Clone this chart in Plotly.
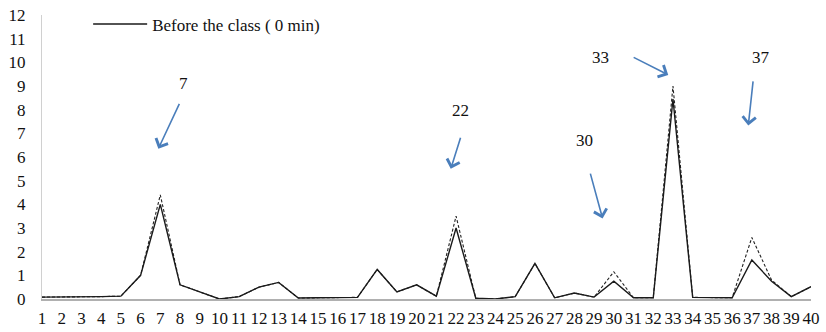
import plotly.graph_objects as go

x_labels = list(range(1, 41))
before_class = [0.08, 0.08, 0.08, 0.1, 0.12, 1.0, 4.0, 0.6, 0.3, 0.0,
                0.1, 0.5, 0.7, 0.04, 0.05, 0.05, 0.07, 1.25, 0.3, 0.6,
                0.12, 3.0, 0.03, 0.0, 0.1, 1.5, 0.05, 0.25, 0.08, 0.75,
                0.05, 0.05, 8.45, 0.07, 0.05, 0.05, 1.65, 0.75, 0.1, 0.52]
other_series = [0.08, 0.08, 0.08, 0.1, 0.12, 1.0, 4.4, 0.6, 0.3, 0.0,
                0.1, 0.5, 0.7, 0.04, 0.05, 0.05, 0.07, 1.25, 0.3, 0.6,
                0.12, 3.5, 0.03, 0.0, 0.1, 1.5, 0.05, 0.25, 0.08, 1.15,
                0.05, 0.05, 9.0, 0.07, 0.05, 0.05, 2.6, 0.8, 0.1, 0.52]

# highlighted points: label, label position, arrow tail, arrow head (data units)
marks = ["7", "22", "30", "33", "37"]
label_x = [8.2, 22.2, 28.5, 29.3, 37.46]
label_y = [9.09, 7.96, 6.69, 10.19, 10.19]
tail_x = [8.0, 22.25, 28.79, 30.93, 37.07]
tail_y = [8.31, 6.88, 5.36, 10.24, 9.26]
head_x = [6.9, 21.73, 29.43, 32.76, 36.82]
head_y = [6.35, 5.50, 3.40, 9.47, 7.33]

font_family = "Liberation Serif"
tick_font = dict(family=font_family, size=17, color="#111111")

fig = go.Figure()
fig.add_trace(go.Scatter(x=x_labels, y=other_series, mode="lines",
                         line=dict(color="#222222", width=1.1, dash="3px,2px"),
                         showlegend=False, name="After"))
fig.add_trace(go.Scatter(x=x_labels, y=before_class, mode="lines",
                         line=dict(color="#1a1a1a", width=1.4),
                         name="Before the class ( 0 min)"))

for lab, lx, ly in zip(marks, label_x, label_y):
    fig.add_annotation(x=lx, y=ly, text=lab, showarrow=False,
                       font=dict(family=font_family, size=17, color="#111111"))
for tx, ty, hx, hy in zip(tail_x, tail_y, head_x, head_y):
    fig.add_annotation(x=hx, y=hy, ax=tx, ay=ty, axref="x", ayref="y",
                       text="", showarrow=True, arrowhead=4, arrowsize=1.6,
                       arrowwidth=1.6, arrowcolor="#4a7ebb")

fig.update_layout(
    template="none",
    width=826, height=332,
    margin=dict(l=42, r=15, t=15, b=33, autoexpand=False),
    paper_bgcolor="white", plot_bgcolor="white",
    font=dict(family=font_family, size=17, color="#111111"),
    legend=dict(x=0.06, y=1.03, xanchor="left", yanchor="top",
                bgcolor="rgba(0,0,0,0)", itemwidth=54,
                font=dict(family=font_family, size=17)),
    xaxis=dict(range=[1, 40], tickmode="array", tickvals=x_labels,
               ticktext=[str(v) for v in x_labels], showgrid=False,
               zeroline=False, showline=True, linecolor="#b0b0b0", linewidth=1.5,
               ticks="", ticklabelstandoff=3, tickangle=0, automargin=False,
               tickfont=tick_font),
    yaxis=dict(range=[0, 12], tickmode="linear", dtick=1, showgrid=False,
               zeroline=False, showline=True, linecolor="#d0d0d0", linewidth=1,
               ticks="", ticklabelstandoff=12, automargin=False,
               tickfont=tick_font),
)

fig.write_html("out.html")
